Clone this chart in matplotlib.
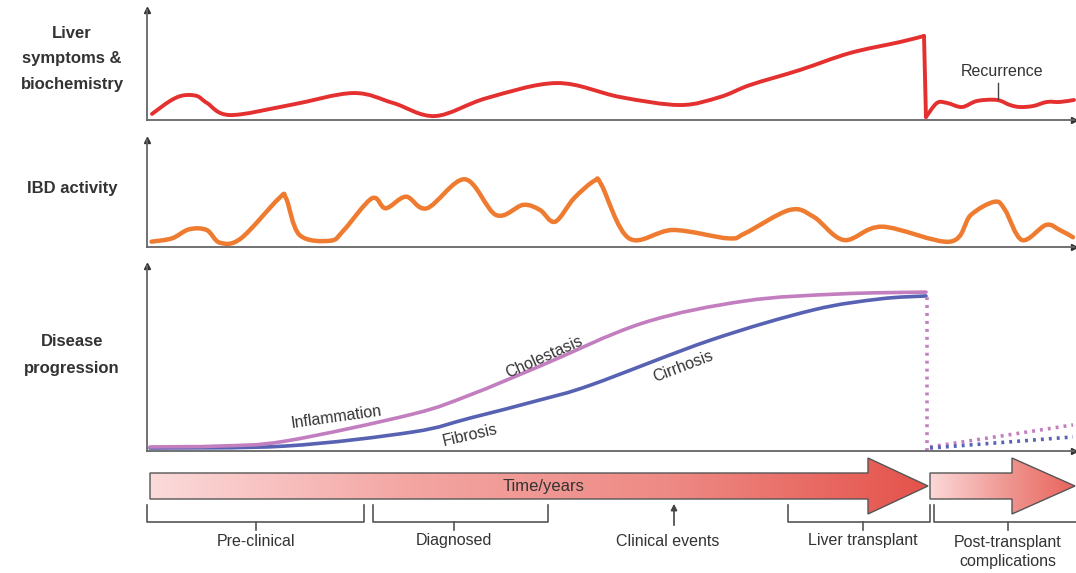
import numpy as np
import matplotlib
matplotlib.use("Agg")
import matplotlib.pyplot as plt
from matplotlib.path import Path
from matplotlib.patches import PathPatch, Polygon
from matplotlib.colors import LinearSegmentedColormap

plt.rcParams['font.family'] = ['Liberation Sans', 'DejaVu Sans']

W, H = 1076, 573

# time runs 0..100 across every panel, transplant at ~84
# Liver symptoms & biochemistry (0..100 arbitrary level)
red_pre_t = [0.54, 2.48, 3.88, 5.39, 6.47, 8.95, 15.43, 22.22, 26.54, 31.07, 36.68, 44.23,
             51.02, 57.50, 61.81, 65.05, 70.44, 75.84, 81.23, 83.82]
red_pre_v = [5.5, 17.3, 22.3, 21.8, 15.5, 4.5, 13.6, 24.5, 15.5, 3.6, 20.0, 33.6,
             20.9, 13.6, 20.9, 31.8, 45.5, 60.9, 70.9, 76.4]
red_post_t = [84.03, 85.22, 86.30, 87.92, 89.54, 91.69, 93.10, 94.17, 95.58, 97.09, 98.49, 100.0]
red_post_v = [2.7, 15.5, 15.5, 11.8, 17.3, 18.2, 13.6, 11.8, 12.7, 16.4, 16.4, 18.2]

# IBD activity
ibd_t = [0.49, 2.70, 4.53, 6.43, 7.87, 10.14, 14.24, 15.00, 16.46, 19.81, 21.25, 24.27,
         25.75, 27.94, 30.20, 34.30, 37.65, 40.56, 42.39, 44.01, 46.06, 48.30, 49.03,
         52.00, 56.74, 62.68, 64.51, 69.32, 71.90, 75.19, 79.29, 86.62, 88.87, 91.45,
         92.56, 94.39, 96.98, 98.46, 99.89]
ibd_v = [5.0, 8.1, 16.5, 15.9, 4.0, 8.1, 45.5, 45.5, 11.2, 5.9, 15.9, 45.5,
         36.2, 47.0, 36.2, 63.3, 29.9, 39.3, 34.6, 23.6, 45.5, 62.1, 57.9,
         8.1, 15.9, 8.1, 12.8, 34.6, 28.3, 6.5, 19.0, 5.0, 29.9, 42.3,
         34.6, 6.5, 20.6, 15.9, 9.1]

# Disease progression
chol_t = [0.32, 7.87, 14.99, 28.69, 34.84, 42.39, 53.51, 64.51, 74.76, 84.03]
chol_v = [2.2, 2.7, 5.4, 20.0, 30.3, 45.9, 69.2, 81.1, 84.9, 85.9]
cirr_t = [0.32, 14.99, 28.69, 34.84, 42.39, 47.90, 60.84, 71.84, 79.07, 84.03]
cirr_v = [1.6, 2.7, 10.3, 17.8, 27.6, 35.7, 60.0, 76.2, 82.2, 83.8]
post_t = [84.47, 99.89]
post_chol_v = [2.2, 14.1]
post_cirr_v = [1.6, 7.6]

stage_labels = ['Pre-clinical', 'Diagnosed', 'Clinical events', 'Liver transplant',
                'Post-transplant\ncomplications']

TXT = '#333333'


def fig_rect(x0, y0, x1, y1):
    return [x0 / W, 1 - y1 / H, (x1 - x0) / W, (y1 - y0) / H]


def smooth(ax, xs, ys, color, lw):
    # catmull-rom through the read points, computed in screen space
    p = ax.transData.transform(np.column_stack([xs, ys]).astype(float))
    n = len(p)
    verts, codes = [p[0]], [Path.MOVETO]
    for i in range(n - 1):
        p0, p1, p2, p3 = p[max(i - 1, 0)], p[i], p[i + 1], p[min(i + 2, n - 1)]
        verts += [p1 + (p2 - p0) / 6, p2 - (p3 - p1) / 6, p2]
        codes += [Path.CURVE4] * 3
    verts = ax.transData.inverted().transform(np.array(verts))
    ax.add_patch(PathPatch(Path(verts, codes), fc='none', ec=color, lw=lw,
                           capstyle='round', joinstyle='round', clip_on=False))


def panel(y_top, y_base):
    ax = fig.add_axes(fig_rect(147, y_top, 1074, y_base))
    ax.set_xlim(0, 100)
    ax.set_ylim(0, 100)
    ax.patch.set_alpha(0)
    for s in ['top', 'right']:
        ax.spines[s].set_visible(False)
    for s in ['left', 'bottom']:
        ax.spines[s].set_color('#666666')
        ax.spines[s].set_linewidth(1.3)
    ax.set_xticks([])
    ax.set_yticks([])
    ax.plot(1, 0, '>', color='#333', ms=4, transform=ax.transAxes, clip_on=False)
    ax.plot(0, 1, '^', color='#333', ms=4, transform=ax.transAxes, clip_on=False)
    return ax


fig = plt.figure(figsize=(W / 100, H / 100), dpi=100)

ov = fig.add_axes([0, 0, 1, 1])
ov.axis('off')

# panel 1
ax1 = panel(10, 120)
red = '#e4302f'
smooth(ax1, red_pre_t, red_pre_v, red, 2.8)
ax1.plot([red_pre_t[-1], red_post_t[0]], [red_pre_v[-1], red_post_v[0]], color=red, lw=2.8,
         solid_capstyle='round')
smooth(ax1, red_post_t, red_post_v, red, 2.8)
ax1.plot([91.8, 91.8], [19.5, 33.5], color='#444', lw=1)
ax1.text(92.2, 44, 'Recurrence', ha='center', va='center', fontsize=11.5, color=TXT)

# panel 2
ax2 = panel(140, 247)
smooth(ax2, ibd_t, ibd_v, '#ee7b30', 3.2)

# panel 3
ax3 = panel(266, 451)
purple, blue = '#c27ebf', '#5762b3'
smooth(ax3, cirr_t, cirr_v, blue, 2.6)
smooth(ax3, chol_t, chol_v, purple, 2.6)
dots = (0, (0.8, 1.4))
ax3.plot([84.14, 84.14], [0, chol_v[-1]], color=purple, lw=2.6, ls=dots)
ax3.plot(post_t, post_chol_v, color=purple, lw=2.6, ls=dots)
ax3.plot(post_t, post_cirr_v, color=blue, lw=2.6, ls=dots)
for label, t, v, rot in [('Inflammation', 20.4, 18.4, 8), ('Fibrosis', 34.8, 8.6, 13),
                         ('Cholestasis', 42.9, 51.0, 24), ('Cirrhosis', 57.8, 45.5, 21)]:
    ax3.text(t, v, label, ha='center', va='center', rotation=rot, fontsize=11.5,
             color=TXT, rotation_mode='anchor')

# row labels
for y, s in [(33, 'Liver'), (59, 'symptoms &'), (85, 'biochemistry'), (189, 'IBD activity'),
             (342, 'Disease'), (368, 'progression')]:
    ov.text(72, y, s, ha='center', va='center', fontsize=12, fontweight='bold', color=TXT)


# time arrows
def grad_arrow(verts, colors):
    poly = Polygon(verts, closed=True, fc='none', ec='#555555', lw=1.0, zorder=3)
    ov.add_patch(poly)
    xs = [v[0] for v in verts]
    ys = [v[1] for v in verts]
    cmap = LinearSegmentedColormap.from_list('g', colors)
    grad = np.linspace(0, 1, 256).reshape(1, -1)
    im = ov.imshow(grad, cmap=cmap, extent=(min(xs), max(xs), max(ys), min(ys)),
                   aspect='auto', zorder=2, interpolation='bilinear')
    im.set_clip_path(poly)


grad_arrow([(150, 473), (868, 473), (868, 458), (928, 486), (868, 514), (868, 499), (150, 499)],
           ['#fbdada', '#f3a5a2', '#ee8a85', '#e4534b'])
grad_arrow([(930, 473), (1012, 473), (1012, 458), (1075, 486), (1012, 514), (1012, 499), (930, 499)],
           ['#fbd8d8', '#f09a95', '#e8645c'])
ov.text(544, 487, 'Time/years', ha='center', va='center', fontsize=12, color=TXT)

# brackets
bk = dict(color='#555555', lw=1.2)
for x0, x1, xm in [(147, 364, 256), (373, 548, 454), (788, 930, 863)]:
    ov.plot([x0, x0, x1, x1], [505, 522, 522, 505], **bk)
    ov.plot([xm, xm], [522, 530], **bk)
ov.plot([934, 934, 1076], [505, 522, 522], **bk)
ov.plot([1008, 1008], [522, 530], **bk)
ov.annotate('', xy=(674, 501), xytext=(674, 528),
            arrowprops=dict(arrowstyle='-|>', color='#444', lw=1.2, mutation_scale=9))

for x, s in zip([256, 454, 668, 863], stage_labels[:4]):
    ov.text(x, 541, s, ha='center', va='center', fontsize=11.5, color=TXT)
ov.text(1008, 552, stage_labels[4], ha='center', va='center', fontsize=11.5, color=TXT,
        linespacing=1.35)

ov.set_xlim(0, W)
ov.set_ylim(H, 0)

fig.savefig('out.png', dpi=100, facecolor='white')
